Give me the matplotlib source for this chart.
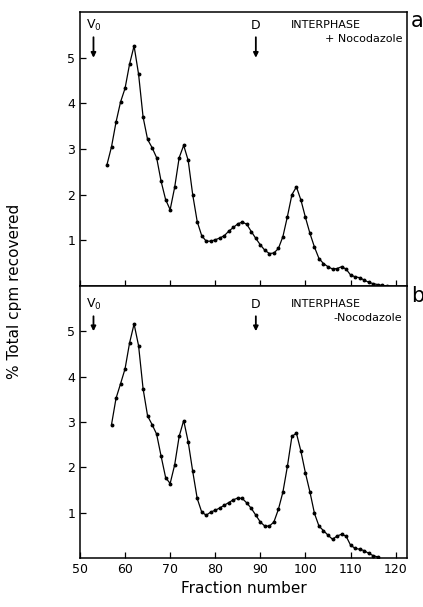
import matplotlib
matplotlib.use('Agg')
import matplotlib.pyplot as plt

# fractions and % total cpm, panel a (+ nocodazole)
frac_a = list(range(56, 119))
cpm_a = [2.66, 3.05, 3.59, 4.03, 4.33, 4.86, 5.26, 4.64, 3.70, 3.21,
         3.03, 2.81, 2.29, 1.89, 1.67, 2.16, 2.81, 3.08, 2.75, 2.00,
         1.41, 1.10, 0.98, 0.98, 1.01, 1.05, 1.10, 1.20, 1.28, 1.36,
         1.40, 1.35, 1.19, 1.04, 0.90, 0.78, 0.71, 0.72, 0.82, 1.08,
         1.52, 2.00, 2.17, 1.88, 1.50, 1.15, 0.85, 0.60, 0.49, 0.42,
         0.37, 0.38, 0.42, 0.37, 0.24, 0.20, 0.18, 0.13, 0.08, 0.05,
         0.03, 0.01, 0.00]

# panel b (- nocodazole)
frac_b = list(range(57, 117))
cpm_b = [2.94, 3.52, 3.84, 4.17, 4.74, 5.16, 4.68, 3.73, 3.13, 2.94,
         2.73, 2.24, 1.77, 1.64, 2.05, 2.68, 3.03, 2.56, 1.91, 1.31,
         1.01, 0.94, 1.01, 1.05, 1.10, 1.16, 1.22, 1.28, 1.32, 1.31,
         1.21, 1.09, 0.94, 0.79, 0.70, 0.70, 0.79, 1.07, 1.45, 2.02,
         2.68, 2.75, 2.35, 1.87, 1.45, 0.98, 0.70, 0.60, 0.50, 0.41,
         0.48, 0.52, 0.48, 0.28, 0.21, 0.19, 0.16, 0.10, 0.05, 0.02]

markers = {'V$_0$': 53, 'D': 89}
x_ticks = [50, 60, 70, 80, 90, 100, 110, 120]
y_ticks = [1, 2, 3, 4, 5]

fig = plt.figure(figsize=(4.23, 6.07), dpi=100)
ax_a = fig.add_axes([0.189, 0.529, 0.773, 0.451])
ax_b = fig.add_axes([0.189, 0.081, 0.773, 0.448], sharex=ax_a)


def draw_panel(ax, frac, cpm, condition, text_y):
    ax.plot(frac, cpm, color='black', lw=0.9, marker='o', ms=1.8)
    ax.set_xlim(50, 122.5)
    ax.set_ylim(0, 6)
    ax.set_xticks(x_ticks)
    ax.set_yticks(y_ticks)
    ax.tick_params(direction='in', length=4, labelsize=9, width=0.9)
    for s in ax.spines.values():
        s.set_linewidth(1.1)
    for name, xpos in markers.items():
        ax.text(xpos, text_y, name, ha='center', va='center', fontsize=9)
        ax.annotate('', xy=(xpos, 5.0), xytext=(xpos, text_y - 0.25),
                    arrowprops=dict(arrowstyle='-|>', color='black', lw=1.3,
                                    mutation_scale=7, shrinkA=0, shrinkB=0))
    ax.text(104.5, text_y + 0.02, 'INTERPHASE', ha='center', va='center', fontsize=8)
    ax.text(121.5, text_y - 0.28, condition, ha='right', va='center', fontsize=8)


draw_panel(ax_a, frac_a, cpm_a, '+ Nocodazole', 5.7)
draw_panel(ax_b, frac_b, cpm_b, '-Nocodazole', 5.58)
ax_a.tick_params(labelbottom=False)

fig.text(0.972, 0.965, 'a', fontsize=15, ha='left', va='center')
fig.text(0.972, 0.513, 'b', fontsize=15, ha='left', va='center')
fig.text(0.035, 0.52, '% Total cpm recovered', rotation=90, ha='center', va='center', fontsize=11)
ax_b.set_xlabel('Fraction number', fontsize=11)

fig.savefig('out.png', dpi=100)
